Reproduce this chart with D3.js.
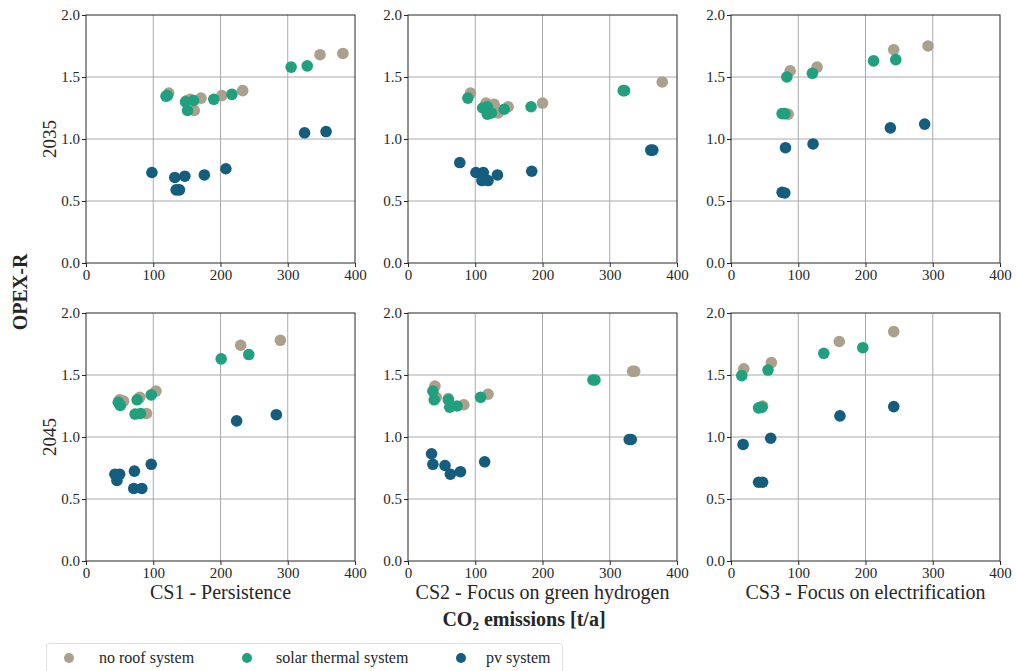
<!DOCTYPE html>
<html>
<head>
<meta charset="utf-8">
<script src="https://cdn.jsdelivr.net/npm/d3@7"></script>
<style>
  body { margin: 0; background: #fff; }
  svg { font-family: "Liberation Serif", "Times New Roman", "DejaVu Serif", serif; }
</style>
</head>
<body>
<div id="chart"></div>
<script>

// [CO2 emissions t/a, OPEX-R]
var cs1_2035_none  = [[123,1.37],[150,1.31],[155,1.32],[161,1.23],[171,1.33],[202,1.35],[233,1.39],[348,1.68],[382,1.69]];
var cs1_2035_solar = [[119,1.345],[121,1.35],[148,1.30],[151,1.23],[160,1.31],[190,1.32],[217,1.36],[305,1.58],[329,1.59]];
var cs1_2035_pv    = [[98,0.73],[132,0.69],[134,0.59],[139,0.59],[147,0.70],[176,0.71],[208,0.76],[325,1.05],[357,1.06]];

var cs2_2035_none  = [[93,1.37],[116,1.29],[128,1.28],[134,1.21],[149,1.26],[200,1.29],[378,1.46]];
var cs2_2035_solar = [[89,1.33],[111,1.25],[118,1.26],[118,1.20],[124,1.21],[143,1.24],[183,1.26],[320,1.39],[322,1.39]];
var cs2_2035_pv    = [[77,0.81],[101,0.73],[110,0.665],[112,0.73],[119,0.665],[133,0.71],[184,0.74],[361,0.91],[364,0.91]];

var cs3_2035_none  = [[85,1.20],[88,1.55],[128,1.58],[242,1.72],[293,1.75]];
var cs3_2035_solar = [[76,1.205],[80,1.205],[83,1.50],[121,1.53],[212,1.63],[245,1.64]];
var cs3_2035_pv    = [[76,0.57],[80,0.565],[81,0.93],[122,0.96],[237,1.09],[288,1.12]];

var cs1_2045_none  = [[50,1.30],[56,1.29],[80,1.32],[90,1.19],[104,1.37],[230,1.74],[289,1.78]];
var cs1_2045_solar = [[48,1.28],[51,1.255],[76,1.30],[73,1.185],[81,1.19],[97,1.34],[201,1.63],[242,1.665]];
var cs1_2045_pv    = [[43,0.70],[46,0.65],[50,0.70],[71,0.585],[72,0.725],[83,0.585],[97,0.78],[224,1.13],[283,1.18]];

var cs2_2045_none  = [[40,1.41],[42,1.32],[60,1.31],[83,1.26],[119,1.345],[334,1.53],[337,1.53]];
var cs2_2045_solar = [[37,1.37],[39,1.30],[60,1.30],[62,1.24],[73,1.25],[108,1.32],[275,1.46],[278,1.46]];
var cs2_2045_pv    = [[35,0.865],[37,0.78],[55,0.77],[63,0.70],[78,0.72],[114,0.80],[329,0.98],[332,0.98]];

var cs3_2045_none  = [[19,1.55],[47,1.25],[60,1.60],[161,1.77],[242,1.85]];
var cs3_2045_solar = [[16,1.495],[41,1.235],[46,1.24],[55,1.54],[138,1.675],[196,1.72]];
var cs3_2045_pv    = [[18,0.94],[41,0.635],[47,0.635],[59,0.99],[162,1.17],[242,1.245]];

var scenarios = ["CS1 - Persistence", "CS2 - Focus on green hydrogen", "CS3 - Focus on electrification"];
var years = ["2035", "2045"];
var seriesNames = ["no roof system", "solar thermal system", "pv system"];
var seriesColours = ["#aaa08b", "#20a07f", "#145d7e"];
var xTicks = [0, 100, 200, 300, 400];
var yTicks = [0.0, 0.5, 1.0, 1.5, 2.0];

var panels = [
    [[cs1_2035_none, cs1_2035_solar, cs1_2035_pv],
     [cs2_2035_none, cs2_2035_solar, cs2_2035_pv],
     [cs3_2035_none, cs3_2035_solar, cs3_2035_pv]],
    [[cs1_2045_none, cs1_2045_solar, cs1_2045_pv],
     [cs2_2045_none, cs2_2045_solar, cs2_2045_pv],
     [cs3_2045_none, cs3_2045_solar, cs3_2045_pv]]
];

var width = 1016;
var height = 671;
var colLeft = [86, 408, 731];
var rowTop = [15, 313];
var panelW = 269;
var panelH = 248;
var fontFamily = "'Liberation Serif', 'Times New Roman', 'DejaVu Serif', serif";

var svg = d3.select("#chart").append("svg")
    .attr("width", width)
    .attr("height", height);

panels.forEach(function(row, r) {
    row.forEach(function(panel, c) {

        var x_scale = d3.scaleLinear().domain([0, 400]).range([0, panelW]);
        var y_scale = d3.scaleLinear().domain([0, 2]).range([panelH, 0]);

        var g = svg.append("g")
            .attr("transform", "translate(" + colLeft[c] + "," + rowTop[r] + ")");

        // grid
        g.append("g").selectAll("line")
            .data(xTicks.slice(1, -1))
            .enter().append("line")
            .attr("x1", function(d){ return x_scale(d); })
            .attr("x2", function(d){ return x_scale(d); })
            .attr("y1", 0).attr("y2", panelH)
            .attr("stroke", "#aaaaaa").attr("stroke-width", 1);
        g.append("g").selectAll("line")
            .data(yTicks.slice(1, -1))
            .enter().append("line")
            .attr("y1", function(d){ return y_scale(d); })
            .attr("y2", function(d){ return y_scale(d); })
            .attr("x1", 0).attr("x2", panelW)
            .attr("stroke", "#aaaaaa").attr("stroke-width", 1);

        // points, one layer per series
        panel.forEach(function(pts, s) {
            g.append("g").selectAll("circle")
                .data(pts)
                .enter().append("circle")
                .attr("cx", function(d){ return x_scale(d[0]); })
                .attr("cy", function(d){ return y_scale(d[1]); })
                .attr("r", 5.8)
                .attr("fill", seriesColours[s]);
        });

        // frame
        g.append("rect")
            .attr("width", panelW).attr("height", panelH)
            .attr("fill", "none").attr("stroke", "#262626").attr("stroke-width", 1);

        var x_axis = d3.axisBottom(x_scale).tickValues(xTicks).tickSize(4).tickPadding(2)
            .tickFormat(d3.format("d"));
        var y_axis = d3.axisLeft(y_scale).tickValues(yTicks).tickSize(4).tickPadding(2)
            .tickFormat(d3.format(".1f"));

        var xa = g.append("g").attr("transform", "translate(0," + panelH + ")").call(x_axis);
        var ya = g.append("g").call(y_axis);
        [xa, ya].forEach(function(a) {
            a.attr("font-family", null).attr("font-size", null);
            a.select(".domain").remove();
            a.selectAll("line").attr("stroke", "#262626");
            a.selectAll("text")
                .attr("fill", "#262626")
                .style("font-family", fontFamily)
                .style("font-size", "15px");
        });

        if (r === 1) {
            g.append("text")
                .attr("x", panelW / 2).attr("y", panelH + 38)
                .attr("text-anchor", "middle")
                .attr("font-size", "20px")
                .attr("fill", "#262626")
                .text(scenarios[c]);
        }
        if (c === 0) {
            g.append("text")
                .attr("transform", "translate(-30," + (panelH / 2) + ") rotate(-90)")
                .attr("text-anchor", "middle")
                .attr("font-size", "19px")
                .attr("fill", "#262626")
                .text(years[r]);
        }
    });
});

// shared labels
svg.append("text")
    .attr("transform", "translate(27,292) rotate(-90)")
    .attr("text-anchor", "middle")
    .attr("font-size", "20px")
    .attr("font-weight", "bold")
    .attr("fill", "#262626")
    .text("OPEX-R");

var xl = svg.append("text")
    .attr("x", 524).attr("y", 626)
    .attr("text-anchor", "middle")
    .attr("font-size", "20px")
    .attr("font-weight", "bold")
    .attr("fill", "#262626");
xl.append("tspan").text("CO");
xl.append("tspan").attr("font-size", "13px").attr("dy", 4).text("2");
xl.append("tspan").attr("dy", -4).text(" emissions [t/a]");

// legend
var legend = svg.append("g");
legend.append("rect")
    .attr("x", 46.5).attr("y", 643.5)
    .attr("width", 516).attr("height", 40)
    .attr("rx", 3)
    .attr("fill", "#fff").attr("stroke", "#e0e0e0");
var legendX = [69, 247, 461];
var legendTextX = [99, 276, 486];
seriesNames.forEach(function(name, i) {
    legend.append("circle")
        .attr("cx", legendX[i]).attr("cy", 658)
        .attr("r", 5).attr("fill", seriesColours[i]);
    legend.append("text")
        .attr("x", legendTextX[i]).attr("y", 663)
        .attr("font-size", "16px")
        .attr("fill", "#262626")
        .text(name);
});

</script>
</body>
</html>
